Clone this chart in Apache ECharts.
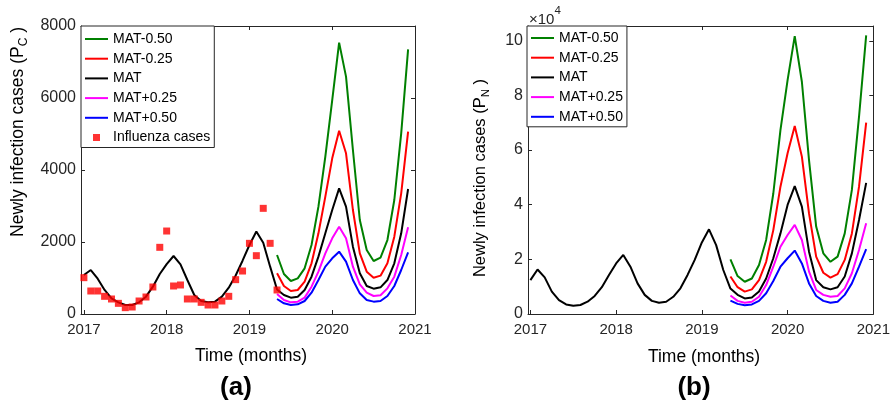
<!DOCTYPE html>
<html>
<head>
<meta charset="utf-8">
<script src="https://cdn.jsdelivr.net/npm/echarts@6/dist/echarts.min.js"></script>
<style>
html,body{margin:0;padding:0;background:#fff;}
#c{width:893px;height:410px;}
</style>
</head>
<body>
<div id="c"></div>
<script>
// Months (Jan 2017 .. Dec 2020)
const months = ['2017-01','2017-02','2017-03','2017-04','2017-05','2017-06','2017-07','2017-08','2017-09','2017-10','2017-11','2017-12',
'2018-01','2018-02','2018-03','2018-04','2018-05','2018-06','2018-07','2018-08','2018-09','2018-10','2018-11','2018-12',
'2019-01','2019-02','2019-03','2019-04','2019-05','2019-06','2019-07','2019-08','2019-09','2019-10','2019-11','2019-12',
'2020-01','2020-02','2020-03','2020-04','2020-05','2020-06','2020-07','2020-08','2020-09','2020-10','2020-11','2020-12'];
const yearTicks = [2017, 2018, 2019, 2020, 2021];
const projStart = 28; // projections start in May 2019

// (a) P_C
const pcMAT = [1083,1222,981,667,435,324,250,250,324,481,759,1110,1385,1611,1380,944,528,361,324,343,481,731,1070,1480,1917,2290,1981,1315,
  680,528,454,481,667,1037,1593,2241,2889,3491,2981,1870,1130,778,704,741,944,1407,2241,3472];
const pcM050 = [1639,1111,917,991,1269,1917,2981,4370,5944,7537,6593,4555,2611,1778,1472,1565,2055,3167,5018,7352];
const pcM025 = [1130,778,639,667,898,1407,2241,3259,4324,5092,4463,2889,1685,1176,1009,1065,1407,2148,3352,5065];
const pcP025 = [556,389,324,343,454,759,1176,1685,2102,2426,2102,1315,824,593,500,519,713,1037,1639,2407];
const pcP050 = [417,296,250,269,361,593,944,1315,1546,1731,1454,944,574,389,343,361,500,778,1222,1713];
const fluCases = [1009,639,639,491,417,296,176,194,361,472,750,1852,2305,778,806,417,417,324,250,250,361,491,954,1194,1963,1620,2935,1963,667];

// (b) P_N
const pnMAT = [12400,16300,13400,8200,5100,3500,3000,3300,4500,6600,9800,14300,18500,21600,17300,11200,7000,4800,4100,4500,6300,9400,14300,19800,26200,31000,25200,16100,
  9300,7000,5700,6000,8200,13000,20400,29500,39900,46800,39300,22800,12400,9800,9000,9800,13700,22200,34400,48000];
const pnM050 = [20000,13900,11800,13000,17900,27100,44100,67300,85600,101700,85000,56300,32000,22200,19100,21000,29500,45400,72200,102000];
const pnM025 = [13700,9800,8200,9000,12400,19100,30700,46600,58800,68800,57600,36800,21000,15100,13300,14600,19800,29500,46600,70000];
const pnP025 = [6800,4800,4100,4500,6300,10600,17300,24600,28900,32600,27100,15500,8800,7000,6300,6600,9400,14900,23400,33200];
const pnP050 = [4900,3700,3200,3500,4800,7600,12100,17300,20400,23200,18500,11200,6600,4800,4100,4500,7000,11200,17300,23700];
const pnYTicks = [0, 20000, 40000, 60000, 80000, 100000];

const t = months.map(m => Number(m.slice(0,4)) + (Number(m.slice(5)) - 1) / 12);
const pairs = (vals, start) => vals.map((v, i) => [t[start + i], v]);

const FONT = "'Liberation Sans', Arial, sans-serif";
const AX = '#262626';
const names = ['MAT-0.50','MAT-0.25','MAT','MAT+0.25','MAT+0.50'];
const colors = ['#008000','#ff0000','#000000','#ff00ff','#0000ff'];
const LINE_ICON = 'path://M0,0M23,14M0,6h23v2h-23z';
const SQUARE_ICON = 'path://M0,0M14,14M3.5,3.5h7v7h-7z';

function lineSeries(name, data, xi, yi) {
  return {type:'line', name, data, xAxisIndex:xi, yAxisIndex:yi, symbol:'none',
    lineStyle:{width:2, color:colors[names.indexOf(name)]}, itemStyle:{color:colors[names.indexOf(name)]},
    animation:false, z:3};
}

function xAxes(grid, min) {
  const base = {gridIndex:grid, type:'value', min, max:2021, splitLine:{show:false},
    axisLine:{show:true, onZero:false, lineStyle:{color:AX, width:1}},
    axisTick:{show:true, inside:true, length:4, customValues:yearTicks, lineStyle:{color:AX}}};
  return [
    Object.assign({}, base, {position:'bottom', axisLabel:{customValues:yearTicks, formatter: v => String(v),
      fontSize:15, color:AX, margin:8, fontFamily:FONT}}),
    Object.assign({}, base, {position:'top', axisLabel:{show:false}})
  ];
}
function yAxes(grid, max, labelOpts, tickOpts) {
  const base = {gridIndex:grid, type:'value', min:0, max, splitLine:{show:false},
    axisLine:{show:true, onZero:false, lineStyle:{color:AX, width:1}},
    axisTick:Object.assign({show:true, inside:true, length:4, lineStyle:{color:AX}}, tickOpts)};
  return [
    Object.assign({}, base, {position:'left', axisLabel:Object.assign({fontSize:16, color:AX, margin:5, fontFamily:FONT,
      formatter: v => String(v)}, labelOpts)}),
    Object.assign({}, base, {position:'right', axisLabel:{show:false}})
  ];
}

const legendBase = {orient:'vertical', backgroundColor:'#fff', borderColor:AX, borderWidth:1, borderRadius:0,
  itemWidth:23, itemHeight:14, itemGap:5.7, selectedMode:false,
  textStyle:{fontSize:14, color:'#000', fontFamily:FONT, lineHeight:14}};

const option = {
  animation:false,
  textStyle:{fontFamily:FONT},
  grid:[
    {left:81, top:26, width:334, height:288, show:false},
    {left:528, top:26, width:346, height:288, show:false}
  ],
  xAxis:[...xAxes(0, 2016.965), ...xAxes(1, 2016.972)],
  yAxis:[
    ...yAxes(0, 8000, {}, {}).map(a => Object.assign(a, {interval:2000})),
    ...yAxes(1, 105400, {customValues:pnYTicks, formatter: v => String(v/10000), fontSize:16}, {customValues:pnYTicks})
  ],
  legend:[
    Object.assign({}, legendBase, {left:81, top:26, padding:[6,4,3,4],
      data:[...names.map(n => ({name:n, icon:LINE_ICON})), {name:'Influenza cases', icon:SQUARE_ICON}]}),
    Object.assign({}, legendBase, {left:527, top:26, padding:[5,4,3,4], data:names.map(n => ({name:n, icon:LINE_ICON}))})
  ],
  series:[
    lineSeries('MAT-0.50', pairs(pcM050, projStart), 0, 0),
    lineSeries('MAT-0.25', pairs(pcM025, projStart), 0, 0),
    lineSeries('MAT', pairs(pcMAT, 0), 0, 0),
    lineSeries('MAT+0.25', pairs(pcP025, projStart), 0, 0),
    lineSeries('MAT+0.50', pairs(pcP050, projStart), 0, 0),
    {type:'scatter', name:'Influenza cases', data:pairs(fluCases, 0), xAxisIndex:0, yAxisIndex:0,
      symbol:'rect', symbolSize:7, itemStyle:{color:'#ff0000'}, z:4},
    lineSeries('MAT-0.50', pairs(pnM050, projStart), 2, 2),
    lineSeries('MAT-0.25', pairs(pnM025, projStart), 2, 2),
    lineSeries('MAT', pairs(pnMAT, 0), 2, 2),
    lineSeries('MAT+0.25', pairs(pnP025, projStart), 2, 2),
    lineSeries('MAT+0.50', pairs(pnP050, projStart), 2, 2)
  ],
  graphic:[
    {type:'text', x:18, y:132, rotation:Math.PI/2, style:{
      text:'{n|Newly infection cases (P}{s|C}{n| )}', align:'center', verticalAlign:'middle', fill:'#000',
      rich:{n:{fontSize:17.5, fontFamily:FONT, fill:'#000', lineHeight:24, verticalAlign:'middle'},
            s:{fontSize:12, fontFamily:FONT, fill:'#000', lineHeight:12, verticalAlign:'bottom'}}}},
    {type:'text', x:480, y:178, rotation:Math.PI/2, style:{
      text:'{n|Newly infection cases (P}{s|N}{n| )}', align:'center', verticalAlign:'middle', fill:'#000',
      rich:{n:{fontSize:16.5, fontFamily:FONT, fill:'#000', lineHeight:23, verticalAlign:'middle'},
            s:{fontSize:11.5, fontFamily:FONT, fill:'#000', lineHeight:11, verticalAlign:'bottom'}}}},
    {type:'text', x:529, y:16, style:{
      text:'{a|×10}{b|4}', align:'left', verticalAlign:'middle', fill:AX,
      rich:{a:{fontSize:15, fontFamily:FONT, fill:AX, lineHeight:22, verticalAlign:'bottom'},
            b:{fontSize:11.5, fontFamily:FONT, fill:AX, lineHeight:12, verticalAlign:'top'}}}},
    {type:'text', x:251, y:356, style:{text:'Time (months)', font:'17.5px '+FONT, fill:'#000', align:'center', verticalAlign:'middle'}},
    {type:'text', x:704, y:357, style:{text:'Time (months)', font:'17.5px '+FONT, fill:'#000', align:'center', verticalAlign:'middle'}},
    {type:'text', x:236, y:388, style:{text:'(a)', font:'bold 26px '+FONT, fill:'#000', align:'center', verticalAlign:'middle'}},
    {type:'text', x:694, y:388, style:{text:'(b)', font:'bold 26px '+FONT, fill:'#000', align:'center', verticalAlign:'middle'}}
  ]
};

const chart = echarts.init(document.getElementById('c'), null, {renderer:'canvas'});
chart.setOption(option);
</script>
</body>
</html>
